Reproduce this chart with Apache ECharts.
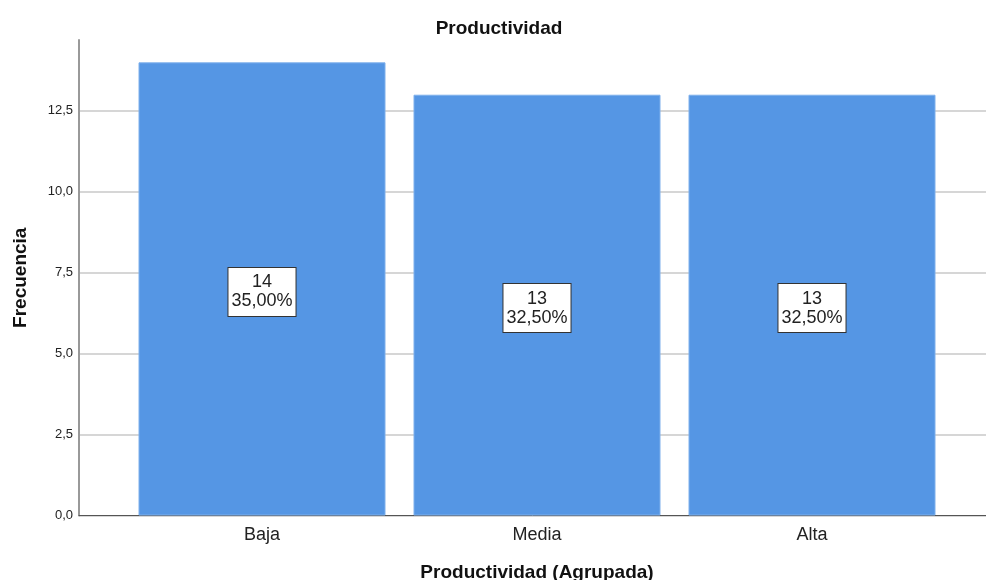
<!DOCTYPE html>
<html>
<head>
<meta charset="utf-8">
<script src="https://cdn.jsdelivr.net/npm/echarts@6/dist/echarts.min.js"></script>
<style>html,body{margin:0;padding:0;background:#fff;}#c{width:986px;height:580px;}</style>
</head>
<body>
<div id="c"></div>
<script>
const categories = ['Baja', 'Media', 'Alta'];
const counts = [14, 13, 13];
const percents = ['35,00%', '32,50%', '32,50%'];
const yTicks = [0, 2.5, 5, 7.5, 10, 12.5];

const chart = echarts.init(document.getElementById('c'), null, {renderer: 'canvas'});
const fmt = v => Number(v).toFixed(1).replace('.', ',');
const YMAX = 14.69;
const font = 'Arial, "Liberation Sans", sans-serif';

chart.setOption({
  animation: false,
  backgroundColor: '#fff',
  title: {
    text: 'Productividad', left: 494, top: 14, textAlign: 'center',
    textStyle: {fontFamily: font, fontSize: 19, fontWeight: 'bold', color: '#111'}
  },
  grid: [
    {left: 79, right: 0, top: 40, bottom: 64.5, containLabel: false, outerBoundsMode: 'none'},
    {left: 124.5, width: 825, top: 40, bottom: 64.5, containLabel: false, outerBoundsMode: 'none'}
  ],
  xAxis: [
    {
      gridIndex: 0, type: 'category', data: categories, boundaryGap: true,
      axisLine: {show: true, lineStyle: {color: '#555', width: 1}},
      axisTick: {show: false}, axisLabel: {show: false}, splitLine: {show: false}
    },
    {
      gridIndex: 1, type: 'category', data: categories,
      axisLine: {show: false}, axisTick: {show: false},
      axisLabel: {show: true, margin: 11, fontFamily: font, fontSize: 18, color: '#222'},
      name: 'Productividad (Agrupada)', nameLocation: 'middle', nameGap: 48,
      nameTextStyle: {fontFamily: font, fontSize: 19, fontWeight: 'bold', color: '#111'}
    }
  ],
  yAxis: [
    {
      gridIndex: 0, type: 'value', min: 0, max: YMAX, interval: 2.5,
      axisLine: {show: true, lineStyle: {color: '#999', width: 2}},
      axisTick: {show: false},
      axisLabel: {
        fontFamily: font, fontSize: 13, color: '#222', margin: 6,
        showMaxLabel: false,
        formatter: v => (yTicks.some(t => Math.abs(t - v) < 1e-6) ? fmt(v) : '')
      },
      splitLine: {show: true, showMaxLine: false, lineStyle: {color: '#c8c8c8', width: 1.5}},
      name: 'Frecuencia', nameLocation: 'middle', nameGap: 49, nameRotate: 90,
      nameTextStyle: {fontFamily: font, fontSize: 19, fontWeight: 'bold', color: '#111'}
    },
    {
      gridIndex: 1, type: 'value', min: 0, max: YMAX, interval: 2.5, show: false,
      splitLine: {show: false}
    }
  ],
  series: [{
    type: 'bar', xAxisIndex: 1, yAxisIndex: 1,
    data: counts, barWidth: 247,
    itemStyle: {color: '#5596e4', borderColor: '#7fb0ec', borderWidth: 1},
    label: {
      show: true, position: 'inside', offset: [0, 3],
      formatter: p => counts[p.dataIndex] + '\n' + percents[p.dataIndex],
      fontFamily: font, fontSize: 18, lineHeight: 19, color: '#222',
      backgroundColor: '#fff', borderColor: '#333', borderWidth: 1,
      padding: [6, 3, 4, 3], align: 'center'
    }
  }]
});
</script>
</body>
</html>
